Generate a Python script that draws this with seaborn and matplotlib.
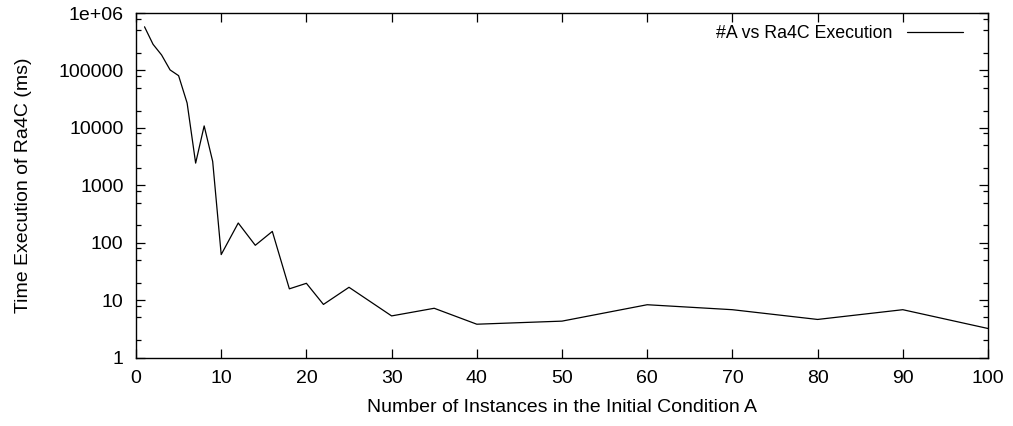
import numpy as np
import pandas as pd
import seaborn as sns
import matplotlib.pyplot as plt
from matplotlib.ticker import FixedLocator, NullFormatter

# values
instances = [1, 2, 3, 4, 5, 6, 7, 8, 9, 10, 12, 14, 16, 18, 20, 22, 25,
             30, 35, 40, 50, 60, 70, 80, 90, 100]
time_ms = [575000, 285000, 186000, 102000, 81000, 27000, 2430, 10800, 2600,
           62, 220, 90, 157, 15.7, 19.6, 8.4, 16.7,
           5.3, 7.2, 3.8, 4.3, 8.3, 6.8, 4.6, 6.8, 3.2]

x_ticks = [0, 10, 20, 30, 40, 50, 60, 70, 80, 90, 100]
y_ticks = [1, 10, 100, 1000, 10000, 100000, 1000000]
y_tick_labels = ["1", "10", "100", "1000", "10000", "100000", "1e+06"]
y_minor = [m * 10 ** k for k in range(0, 6) for m in (2, 5, 8)]

series_label = "#A vs Ra4C Execution"

sns.set_style("ticks")
plt.rcParams['font.family'] = ['Liberation Sans', 'DejaVu Sans']
plt.rcParams['text.color'] = 'black'
plt.rcParams['axes.labelcolor'] = 'black'

df = pd.DataFrame({"instances": instances, "time": time_ms})

fig = plt.figure(figsize=(10.13, 4.26), dpi=100)
ax = fig.add_axes([136 / 1013, 1 - 357.5 / 426, (988 - 136) / 1013, (357.5 - 13) / 426])

sns.lineplot(data=df, x="instances", y="time", ax=ax, color="black",
             linewidth=0.9, label=series_label)

ax.set_yscale("log")
ax.set_xlim(0, 100)
ax.set_ylim(1, 1e6)
ax.xaxis.set_major_locator(FixedLocator(x_ticks))
ax.yaxis.set_major_locator(FixedLocator(y_ticks))
ax.set_yticklabels(y_tick_labels)
ax.yaxis.set_minor_locator(FixedLocator(y_minor))
ax.yaxis.set_minor_formatter(NullFormatter())
ax.xaxis.set_minor_locator(FixedLocator([]))

ax.tick_params(which="both", direction="in", top=True, right=True,
               labelsize=14, color="black", labelcolor="black")
ax.tick_params(which="major", length=6.5, width=0.9)
ax.tick_params(which="minor", length=3.4, width=0.9)
ax.tick_params(axis="x", pad=9)
ax.tick_params(axis="y", pad=9)

for s in ax.spines.values():
    s.set_linewidth(1.0)
    s.set_color("black")

ax.set_xlabel("Number of Instances in the Initial Condition A", fontsize=14, labelpad=9)
ax.set_ylabel("Time Execution of Ra4C (ms)", fontsize=14, labelpad=19)

ax.legend(loc="upper right", bbox_to_anchor=(0.9789, 0.9864), frameon=False,
          markerfirst=False, fontsize=12.8, handlelength=3.15,
          handletextpad=0.8, borderpad=0.4, borderaxespad=0)

fig.savefig("out.png", dpi=100)
plt.close(fig)
